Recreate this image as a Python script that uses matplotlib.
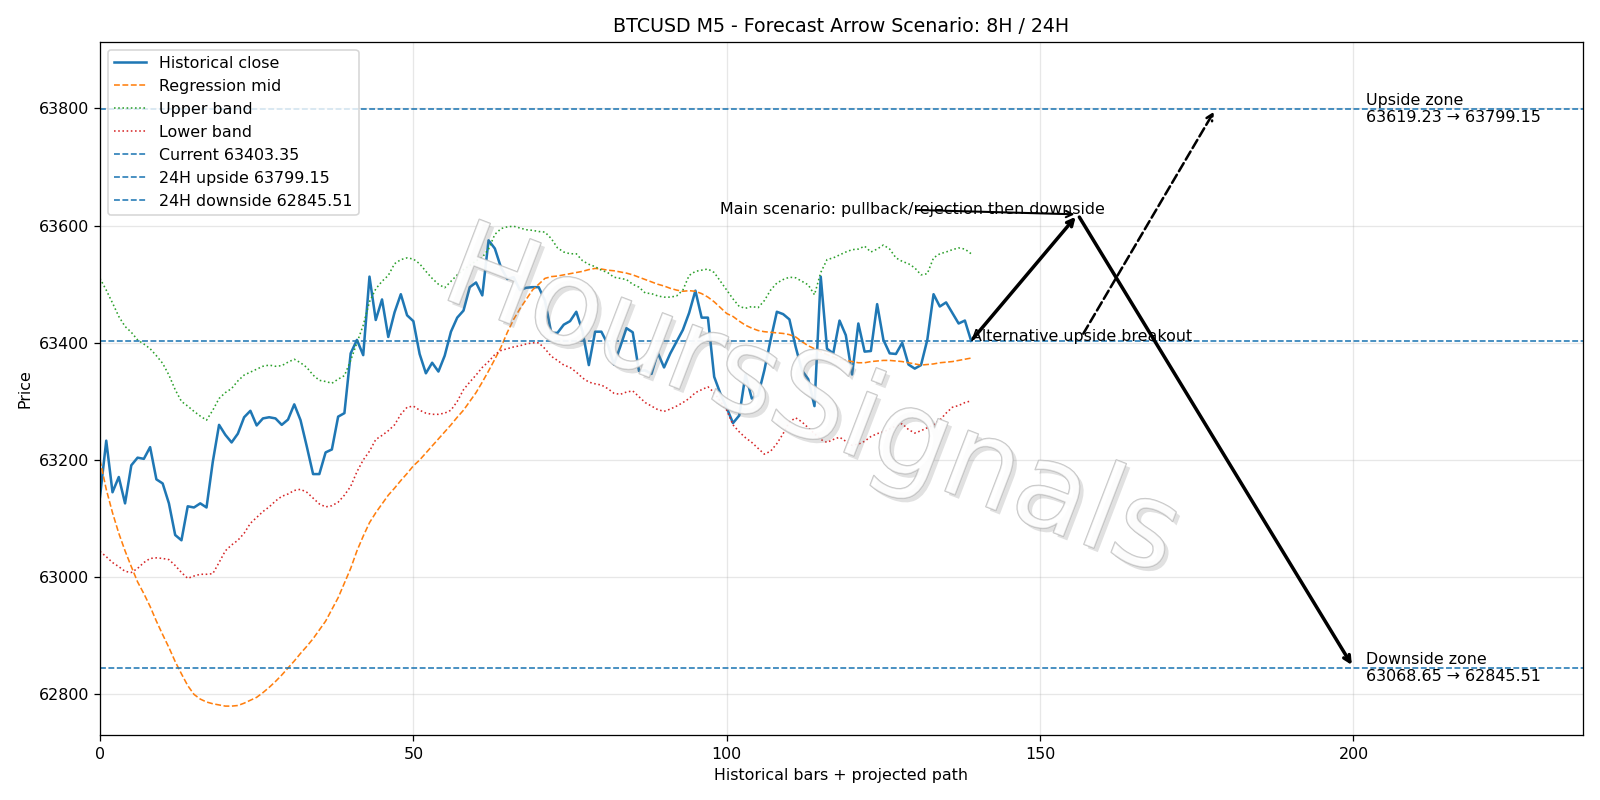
import matplotlib
matplotlib.use("Agg")
import matplotlib.pyplot as plt
import matplotlib.patheffects as pe
import numpy as np

plt.rcParams['font.family'] = ['DejaVu Sans']

close = [63137, 63233, 63145, 63171, 63126, 63191, 63204, 63202, 63222, 63167,
         63160, 63126, 63072, 63063, 63121, 63119, 63126, 63119, 63197, 63260,
         63243, 63230, 63245, 63273, 63284, 63259, 63271, 63273, 63271, 63260,
         63269, 63295, 63268, 63223, 63176, 63176, 63213, 63218, 63274, 63280,
         63382, 63405, 63379, 63513, 63439, 63474, 63410, 63452, 63483, 63447,
         63437, 63381, 63348, 63366, 63351, 63378, 63419, 63443, 63455, 63495,
         63503, 63481, 63575, 63561, 63528, 63509, 63512, 63490, 63494, 63495,
         63495, 63472, 63417, 63417, 63431, 63437, 63453, 63419, 63362, 63419,
         63419, 63398, 63363, 63393, 63425, 63418, 63352, 63353, 63347, 63383,
         63358, 63382, 63402, 63422, 63451, 63489, 63443, 63443, 63342, 63313,
         63289, 63263, 63276, 63346, 63305, 63310, 63353, 63405, 63453, 63449,
         63440, 63393, 63353, 63338, 63292, 63513, 63390, 63382, 63438, 63413,
         63346, 63433, 63385, 63386, 63466, 63405, 63382, 63381, 63400, 63363,
         63356, 63362, 63405, 63483, 63462, 63469, 63451, 63433, 63438, 63403.35]

mid = [63200, 63150, 63110, 63075, 63045, 63018, 62992, 62972, 62950, 62925,
       62902, 62880, 62856, 62835, 62815, 62800, 62792, 62787, 62784, 62782,
       62780, 62780, 62781, 62785, 62790, 62795, 62803, 62812, 62822, 62833,
       62845, 62857, 62870, 62882, 62895, 62910, 62925, 62945, 62965, 62990,
       63015, 63045, 63070, 63093, 63110, 63125, 63140, 63152, 63165, 63177,
       63190, 63200, 63212, 63224, 63236, 63248, 63260, 63273, 63285, 63300,
       63315, 63333, 63352, 63372, 63393, 63418, 63440, 63458, 63474, 63490,
       63500, 63510, 63513, 63514, 63516, 63518, 63520, 63522, 63525, 63527,
       63526, 63524, 63523, 63521, 63519, 63516, 63512, 63508, 63504, 63500,
       63497, 63493, 63490, 63488, 63489, 63488, 63484, 63478, 63470, 63460,
       63450, 63445, 63437, 63430, 63425, 63421, 63419, 63418, 63417, 63416,
       63414, 63410, 63402, 63395, 63390, 63385, 63380, 63376, 63372, 63370,
       63368, 63366, 63366, 63368, 63369, 63370, 63370, 63369, 63368, 63366,
       63364, 63362, 63363, 63364, 63366, 63367, 63368, 63370, 63372, 63374]

upper = [63510, 63490, 63468, 63445, 63428, 63418, 63405, 63398, 63390, 63378,
         63365, 63345, 63320, 63300, 63292, 63283, 63275, 63268, 63285, 63305,
         63315, 63322, 63335, 63345, 63350, 63355, 63360, 63362, 63360, 63361,
         63367, 63372, 63366, 63358, 63345, 63336, 63334, 63331, 63338, 63344,
         63370, 63400, 63430, 63470, 63492, 63505, 63515, 63535, 63542, 63545,
         63543, 63535, 63522, 63510, 63500, 63494, 63505, 63516, 63525, 63532,
         63540, 63546, 63560, 63585, 63595, 63598, 63599, 63596, 63593, 63592,
         63590, 63589, 63578, 63562, 63555, 63552, 63552, 63540, 63534, 63530,
         63524, 63520, 63512, 63510, 63508, 63500, 63495, 63485, 63484, 63480,
         63478, 63478, 63480, 63490, 63515, 63522, 63524, 63526, 63520, 63505,
         63490, 63475, 63462, 63459, 63462, 63460, 63472, 63490, 63502, 63508,
         63512, 63511, 63505, 63499, 63482, 63520, 63542, 63545, 63550, 63555,
         63559, 63560, 63565, 63555, 63560, 63567, 63560, 63545, 63539, 63535,
         63528, 63516, 63518, 63545, 63552, 63555, 63559, 63562, 63560, 63552]

lower = [63044, 63035, 63025, 63018, 63010, 63008, 63015, 63025, 63032, 63033,
         63032, 63030, 63020, 63008, 62998, 63002, 63005, 63005, 63006, 63025,
         63045, 63055, 63063, 63075, 63092, 63102, 63112, 63120, 63130, 63138,
         63142, 63148, 63150, 63145, 63135, 63125, 63120, 63122, 63128, 63140,
         63155, 63180, 63200, 63215, 63235, 63242, 63250, 63260, 63278, 63290,
         63292, 63285, 63280, 63278, 63278, 63280, 63285, 63300, 63320, 63333,
         63345, 63358, 63368, 63380, 63387, 63390, 63393, 63395, 63398, 63400,
         63400, 63390, 63377, 63370, 63362, 63358, 63350, 63340, 63333, 63330,
         63328, 63322, 63314, 63312, 63316, 63318, 63308, 63298, 63292, 63286,
         63283, 63287, 63292, 63298, 63305, 63315, 63320, 63325, 63315, 63300,
         63285, 63260, 63248, 63238, 63230, 63220, 63210, 63215, 63228, 63245,
         63265, 63272, 63265, 63255, 63245, 63235, 63230, 63235, 63239, 63232,
         63225, 63227, 63232, 63240, 63245, 63248, 63253, 63258, 63262, 63252,
         63246, 63250, 63255, 63260, 63268, 63280, 63290, 63293, 63298, 63301]

current = 63403.35
up_24h = 63799.15
down_24h = 62845.51
up_zone = (63619.23, 63799.15)
down_zone = (63068.65, 62845.51)
peak_bar = 156
alt_bar = 178
target_bar = 200

x = np.arange(len(close))
last = len(close) - 1

fig, ax = plt.subplots(figsize=(14, 7), dpi=800 / 7)
ax.plot(x, close, color='C0', lw=1.6, label='Historical close')
ax.plot(x, mid, color='C1', ls='--', lw=1, label='Regression mid')
ax.plot(x, upper, color='C2', ls=':', lw=1, label='Upper band')
ax.plot(x, lower, color='C3', ls=':', lw=1, label='Lower band')
ax.axhline(current, color='C0', ls='--', lw=1, label=f'Current {current:.2f}')
ax.axhline(up_24h, color='C0', ls='--', lw=1, label=f'24H upside {up_24h:.2f}')
ax.axhline(down_24h, color='C0', ls='--', lw=1, label=f'24H downside {down_24h:.2f}')

# main scenario path
ax.annotate('', xy=(peak_bar, up_zone[0]), xytext=(last, current),
            arrowprops=dict(arrowstyle='->', lw=2.2, color='black'))
ax.annotate('', xy=(target_bar, down_24h), xytext=(peak_bar, up_zone[0]),
            arrowprops=dict(arrowstyle='->', lw=2.2, color='black'))
ax.annotate('Main scenario: pullback/rejection then downside', xy=(peak_bar, up_zone[0]),
            xytext=(last - 40, up_zone[0]), fontsize=10,
            arrowprops=dict(arrowstyle='->', lw=1.3, color='black', patchA=None))
# alternative
ax.annotate('Alternative upside breakout', xy=(alt_bar, up_24h), xytext=(last, current),
            fontsize=10,
            arrowprops=dict(arrowstyle='->', lw=1.6, ls='--', color='black', patchA=None))

ax.text(target_bar + 2, up_24h, f'Upside zone\n{up_zone[0]:.2f} → {up_zone[1]:.2f}',
        va='center', fontsize=10)
ax.text(target_bar + 2, down_24h, f'Downside zone\n{down_zone[0]:.2f} → {down_zone[1]:.2f}',
        va='center', fontsize=10)

# watermark
ax.text(113.5, 63295, 'HoursSignals', fontsize=75, rotation=-21, color='white', alpha=0.4,
        ha='center', va='center', zorder=10,
        path_effects=[pe.withSimplePatchShadow(offset=(2.5, -2.5), shadow_rgbFace='#777777', alpha=0.22),
                      pe.Stroke(linewidth=0.9, foreground='#b5b5b5', alpha=0.8), pe.Normal()])

ax.set_xlim(0, 236.6)
ax.set_ylim(62730, 63914)
ax.grid(True, alpha=0.3)
ax.set_title('BTCUSD M5 - Forecast Arrow Scenario: 8H / 24H')
ax.set_xlabel('Historical bars + projected path')
ax.set_ylabel('Price')
ax.legend(loc='upper left')
plt.tight_layout()
plt.savefig('out.png')
